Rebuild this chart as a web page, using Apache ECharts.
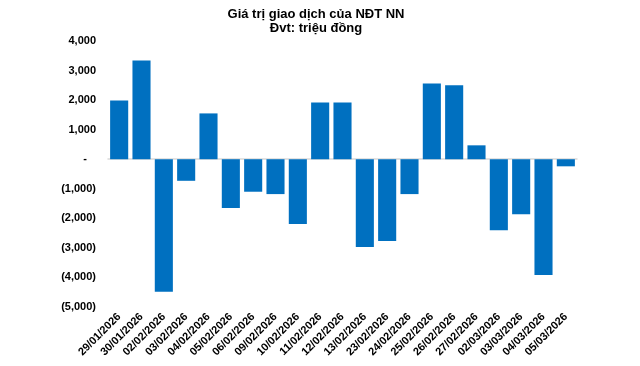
<!DOCTYPE html>
<html><head><meta charset="utf-8">
<script src="https://cdn.jsdelivr.net/npm/echarts@6/dist/echarts.min.js"></script>
<style>html,body{margin:0;padding:0;background:#fff}#c{width:640px;height:366px}</style>
</head><body><div id="c"></div>
<script>
const categories = ["29/01/2026","30/01/2026","02/02/2026","03/02/2026","04/02/2026","05/02/2026","06/02/2026","09/02/2026","10/02/2026","11/02/2026","12/02/2026","13/02/2026","23/02/2026","24/02/2026","25/02/2026","26/02/2026","27/02/2026","02/03/2026","03/03/2026","04/03/2026","05/03/2026"];
const values = [1990, 3340, -4480, -730, 1550, -1650, -1100, -1180, -2190, 1920, 1920, -2970, -2770, -1180, 2560, 2500, 470, -2400, -1860, -3920, -240];
const titleLines = ["Giá trị giao dịch của NĐT NN", "Đvt: triệu đồng"];

const chart = echarts.init(document.getElementById('c'), null, {renderer:'canvas'});
const fmt = v => {
  if (v === 0) return '-   ';
  const s = Math.abs(v).toLocaleString('en-US');
  return v < 0 ? '(' + s + ')' : s;
};
chart.setOption({
  animation:false,
  title:{text:titleLines.join('\n'), left:311, top:2, textAlign:'center',
    textStyle:{fontFamily:'Liberation Sans', fontWeight:'bold', fontSize:13, lineHeight:14, color:'#000'}},
  grid:{left:108, right:63, top:41, bottom:59, containLabel:false},
  xAxis:[
    {type:'category', data:categories, axisLine:{onZero:true, lineStyle:{color:'#d9d9d9', width:1.5}},
     axisTick:{show:false}, axisLabel:{show:false}},
    {type:'category', data:categories, position:'bottom', axisLine:{show:false, onZero:false},
     axisTick:{show:false},
     axisLabel:{rotate:45, interval:0, margin:8, fontFamily:'Liberation Sans', fontWeight:'bold', fontSize:11, color:'#000'}}
  ],
  yAxis:{type:'value', min:-5000, max:4000, interval:1000,
    splitLine:{show:false}, axisLine:{show:false}, axisTick:{show:false},
    axisLabel:{formatter:fmt, margin:12, fontFamily:'Liberation Sans', fontWeight:'bold', fontSize:11, color:'#000'}},
  series:[{type:'bar', data:values, xAxisIndex:0, barCategoryGap:'19%', itemStyle:{color:'#0070C0'}}]
});
</script></body></html>
